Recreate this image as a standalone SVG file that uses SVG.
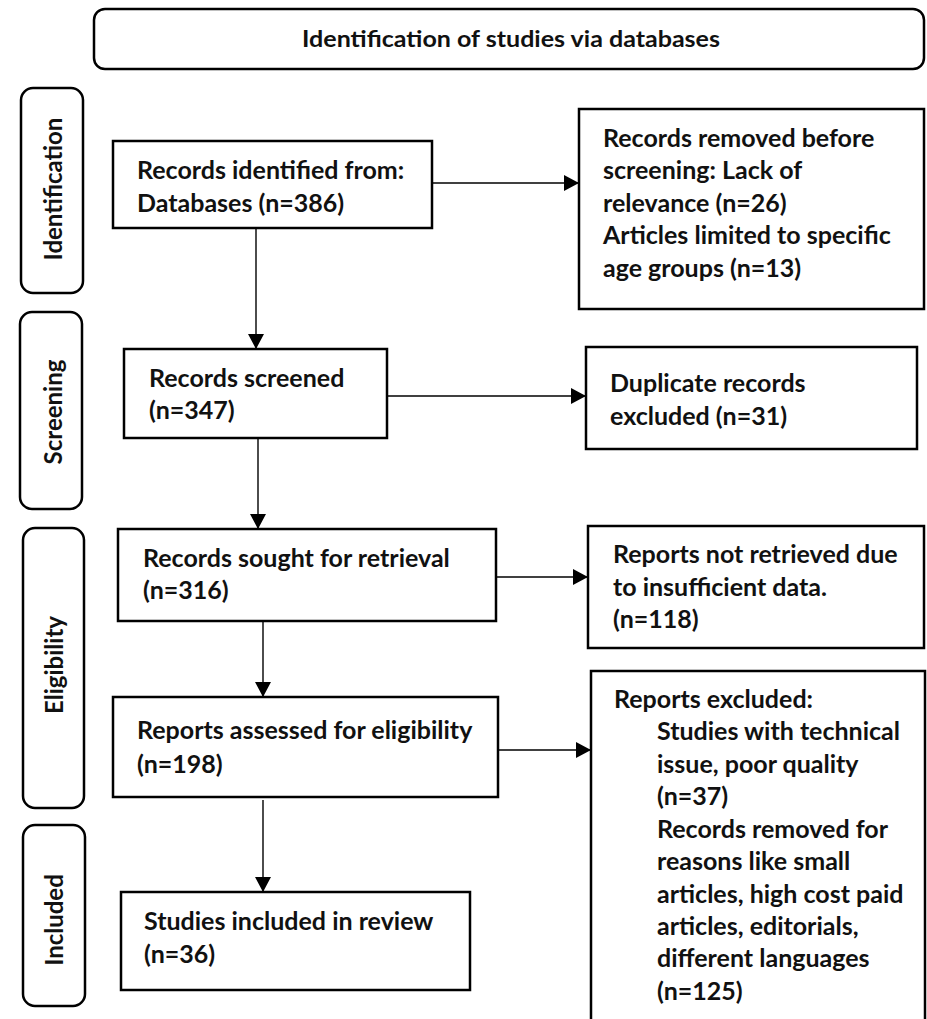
<svg xmlns="http://www.w3.org/2000/svg" width="927" height="1019" viewBox="0 0 927 1019">
<style>
.box{fill:#fff;stroke:#000;stroke-width:2.5}
.side{fill:#fff;stroke:#000;stroke-width:2.5}
.t{font-family:Lato,"Open Sans",sans-serif;font-weight:bold;font-size:25px;fill:#111}
.st{font-family:Lato,"Open Sans",sans-serif;font-weight:bold;font-size:24px;fill:#111}
.title{font-family:Lato,"Open Sans",sans-serif;font-weight:bold;font-size:23px;fill:#111}
.c{stroke:#000;stroke-width:1.4;fill:none}
</style>
<defs>
<marker id="ah" markerUnits="userSpaceOnUse" markerWidth="16" markerHeight="16" refX="15" refY="8" orient="auto">
<path d="M0,0 L15,8 L0,16 z" fill="#000"/>
</marker>
</defs>
<rect width="927" height="1019" fill="#fff"/>
<g id="header">
<rect class="side" x="94" y="9" width="830" height="60" rx="11"/>
<text class="title" x="302" y="47" textLength="418" lengthAdjust="spacingAndGlyphs">Identification of studies via databases</text>
</g>
<g id="phase-identification">
<rect class="side" x="21" y="88" width="62" height="205" rx="12"/>
<text class="st" transform="translate(62,189) rotate(-90)" text-anchor="middle">Identification</text>
</g>
<g id="phase-screening">
<rect class="side" x="20" y="312" width="62" height="197" rx="12"/>
<text class="st" transform="translate(62,412) rotate(-90)" text-anchor="middle">Screening</text>
</g>
<g id="phase-eligibility">
<rect class="side" x="23" y="528" width="61" height="280" rx="12"/>
<text class="st" transform="translate(63,665) rotate(-90)" text-anchor="middle">Eligibility</text>
</g>
<g id="phase-included">
<rect class="side" x="23" y="825" width="62" height="181" rx="12"/>
<text class="st" transform="translate(63,920) rotate(-90)" text-anchor="middle">Included</text>
</g>
<g id="connectors">
<line class="c" x1="256" y1="228" x2="256" y2="349" marker-end="url(#ah)"/>
<line class="c" x1="432" y1="183" x2="579" y2="183" marker-end="url(#ah)"/>
<line class="c" x1="258" y1="438" x2="258" y2="529" marker-end="url(#ah)"/>
<line class="c" x1="387" y1="396" x2="586" y2="396" marker-end="url(#ah)"/>
<line class="c" x1="263" y1="621" x2="263" y2="697" marker-end="url(#ah)"/>
<line class="c" x1="496" y1="577" x2="588" y2="577" marker-end="url(#ah)"/>
<line class="c" x1="263" y1="800" x2="263" y2="892" marker-end="url(#ah)"/>
<line class="c" x1="498" y1="750" x2="591" y2="750" marker-end="url(#ah)"/>
</g>
<g id="records-identified">
<rect class="box" x="113" y="141" width="319" height="87"/>
<text class="t" x="137" y="179">Records identified from:</text>
<text class="t" x="137" y="212">Databases (n=386)</text>
</g>
<g id="records-removed">
<rect class="box" x="579" y="109" width="345" height="200"/>
<text class="t" x="603" y="147">Records removed before</text>
<text class="t" x="603" y="179">screening: Lack of</text>
<text class="t" x="603" y="212">relevance (n=26)</text>
<text class="t" x="603" y="244">Articles limited to specific</text>
<text class="t" x="603" y="277">age groups (n=13)</text>
</g>
<g id="records-screened">
<rect class="box" x="124" y="349" width="263" height="89"/>
<text class="t" x="149" y="387">Records screened</text>
<text class="t" x="149" y="419">(n=347)</text>
</g>
<g id="duplicates">
<rect class="box" x="586" y="347" width="331" height="102"/>
<text class="t" x="610" y="392">Duplicate records</text>
<text class="t" x="610" y="425">excluded (n=31)</text>
</g>
<g id="records-sought">
<rect class="box" x="118" y="529" width="378" height="92"/>
<text class="t" x="143" y="567">Records sought for retrieval</text>
<text class="t" x="143" y="599">(n=316)</text>
</g>
<g id="not-retrieved">
<rect class="box" x="588" y="526" width="336" height="122"/>
<text class="t" x="613" y="563">Reports not retrieved due</text>
<text class="t" x="613" y="596">to insufficient data.</text>
<text class="t" x="613" y="628">(n=118)</text>
</g>
<g id="reports-assessed">
<rect class="box" x="113" y="697" width="385" height="100"/>
<text class="t" x="137" y="739">Reports assessed for eligibility</text>
<text class="t" x="137" y="773">(n=198)</text>
</g>
<g id="reports-excluded">
<rect class="box" x="591" y="671" width="334" height="360"/>
<text class="t" x="614" y="708">Reports excluded:</text>
<text class="t" x="657" y="740">Studies with technical</text>
<text class="t" x="657" y="773">issue, poor quality</text>
<text class="t" x="657" y="805">(n=37)</text>
<text class="t" x="657" y="838">Records removed for</text>
<text class="t" x="657" y="870">reasons like small</text>
<text class="t" x="657" y="903">articles, high cost paid</text>
<text class="t" x="657" y="935">articles, editorials,</text>
<text class="t" x="657" y="967">different languages</text>
<text class="t" x="657" y="1000">(n=125)</text>
</g>
<g id="studies-included">
<rect class="box" x="121" y="892" width="349" height="98"/>
<text class="t" x="144" y="930">Studies included in review</text>
<text class="t" x="144" y="963">(n=36)</text>
</g>
</svg>
